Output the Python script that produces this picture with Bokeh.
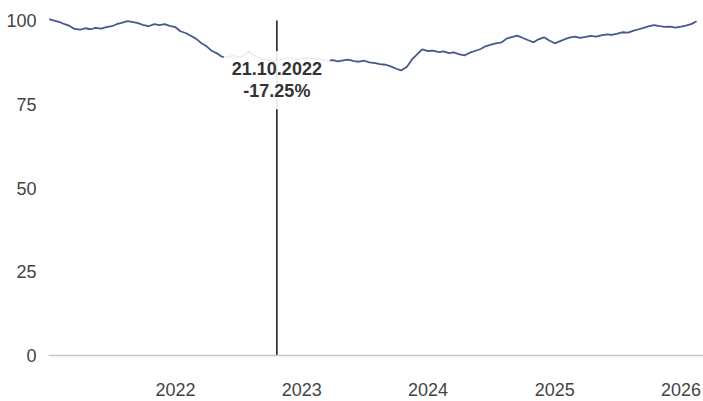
import pandas as pd
from bokeh.plotting import figure
from bokeh.models import Range1d, FixedTicker, DatetimeTickFormatter, Label, ColumnDataSource
from bokeh.embed import file_html
from bokeh.resources import INLINE

# ---- data ----
dates = pd.date_range("2021-01-01", "2026-02-15", freq="SMS")

values_2021 = [100.4, 100.0, 99.5, 98.9, 98.4, 97.5, 97.3, 97.7, 97.4, 97.8, 97.6, 98.0,
               98.3, 98.9, 99.4, 99.8, 99.5, 99.2, 98.6, 98.3, 98.9, 98.6, 98.9, 98.4]
values_2022 = [98.0, 96.8, 96.2, 95.4, 94.6, 93.4, 92.3, 91.0, 90.2, 89.2, 88.9, 89.7,
               89.1, 89.4, 90.6, 89.6, 88.9, 88.4, 88.1, 87.8, 88.3, 88.6, 88.9, 88.5]
values_2023 = [88.7, 88.9, 88.4, 88.6, 88.3, 88.0, 88.2, 87.8, 88.1, 88.3, 87.9, 87.7,
               88.0, 87.5, 87.3, 87.0, 86.8, 86.3, 85.6, 85.1, 86.2, 88.3, 90.0, 91.4]
values_2024 = [90.9, 91.0, 90.6, 90.8, 90.3, 90.5, 89.9, 89.6, 90.4, 90.9, 91.5, 92.3,
               92.8, 93.2, 93.5, 94.6, 95.1, 95.5, 94.8, 94.2, 93.5, 94.4, 95.0, 94.1]
values_2025 = [93.2, 93.8, 94.5, 95.0, 95.2, 94.8, 95.1, 95.4, 95.2, 95.6, 95.9, 95.7,
               96.1, 96.5, 96.4, 96.9, 97.4, 97.8, 98.3, 98.6, 98.3, 98.1, 98.2, 97.9]
values_2026 = [98.2, 98.5, 99.0, 99.8]
values = values_2021 + values_2022 + values_2023 + values_2024 + values_2025 + values_2026

year_ticks = ["2022-01-01", "2023-01-01", "2024-01-01", "2025-01-01", "2026-01-01"]
y_ticks = [0, 25, 50, 75, 100]
marker_date = "2022-10-21"
marker_text = "21.10.2022\n-17.25%"

# ---- figure ----
src = ColumnDataSource(dict(x=dates[:len(values)], y=values))

p = figure(width=703, height=401, x_axis_type="datetime",
           output_backend="svg", toolbar_location=None,
           x_range=Range1d(pd.Timestamp("2020-12-30"), pd.Timestamp("2026-03-07")),
           y_range=Range1d(0, 102.4),
           min_border_left=48, min_border_right=0, min_border_top=12, min_border_bottom=46)
p.outline_line_color = None
p.xgrid.visible = False
p.ygrid.visible = False
p.background_fill_color = "white"
p.border_fill_color = "white"

p.line("x", "y", source=src, line_color="#45598a", line_width=1.8)

md = pd.Timestamp(marker_date)
p.segment(x0=[md], y0=[y_ticks[0]], x1=[md], y1=[y_ticks[-1]], line_color="#222222", line_width=1.6)

lab = Label(x=md, y=82.2, text=marker_text, text_align="center", text_baseline="middle",
            text_font="Liberation Sans", text_font_size="18px", text_font_style="bold",
            text_color="#333333", text_line_height=1.1,
            background_fill_color="white", background_fill_alpha=0.9, padding=8)
p.add_layout(lab)

# axes
p.yaxis.ticker = FixedTicker(ticks=y_ticks)
p.yaxis.axis_line_color = None
p.yaxis.major_tick_line_color = None
p.yaxis.minor_tick_line_color = None
p.yaxis.major_label_standoff = 6
p.yaxis.major_label_text_font = "Liberation Sans"
p.yaxis.major_label_text_font_size = "18px"
p.yaxis.major_label_text_color = "#444444"

p.xaxis.ticker = FixedTicker(ticks=[pd.Timestamp(t).timestamp() * 1000 for t in year_ticks])
p.xaxis.formatter = DatetimeTickFormatter(years="%Y", months="%Y", days="%Y", hours="%Y",
                                          hourmin="%Y", minutes="%Y", minsec="%Y", seconds="%Y",
                                          milliseconds="%Y", microseconds="%Y")
p.xaxis.axis_line_color = "#c8c8c8"
p.xaxis.axis_line_width = 1.5
p.xaxis.major_tick_line_color = None
p.xaxis.minor_tick_line_color = None
p.xaxis.major_label_standoff = 21
p.xaxis.major_label_text_font = "Liberation Sans"
p.xaxis.major_label_text_font_size = "18px"
p.xaxis.major_label_text_color = "#444444"

open("out.html", "w").write(file_html(p, INLINE))
